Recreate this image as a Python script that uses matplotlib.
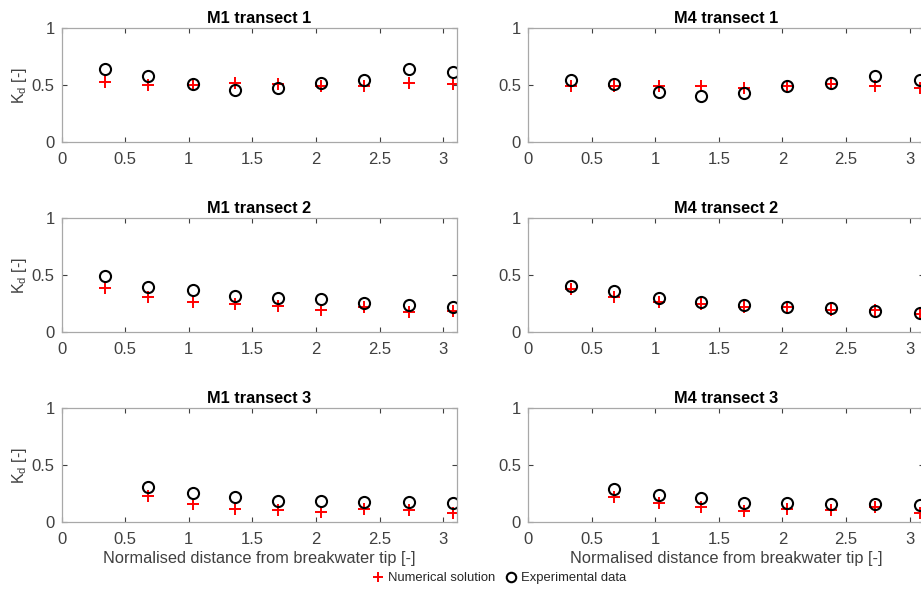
"""Diffraction coefficient along transects: numerical vs experimental."""

import matplotlib
matplotlib.use("Agg")
import matplotlib.pyplot as plt
import numpy as np

plt.rcParams["font.family"] = ["Liberation Sans", "DejaVu Sans"]
plt.rcParams["mathtext.fontset"] = "custom"
plt.rcParams["mathtext.rm"] = "Liberation Sans"
plt.rcParams["mathtext.it"] = "Liberation Sans"

X = [0.34, 0.68, 1.03, 1.36, 1.70, 2.04, 2.38, 2.73, 3.08]
X3 = X[1:]

m1_t1_num = [0.53, 0.50, 0.50, 0.52, 0.51, 0.49, 0.49, 0.52, 0.51]
m1_t1_exp = [0.64, 0.58, 0.51, 0.46, 0.48, 0.52, 0.55, 0.64, 0.62]
m4_t1_num = [0.49, 0.49, 0.49, 0.49, 0.48, 0.49, 0.51, 0.49, 0.48]
m4_t1_exp = [0.55, 0.51, 0.44, 0.41, 0.43, 0.49, 0.52, 0.58, 0.55]

m1_t2_num = [0.39, 0.31, 0.27, 0.25, 0.23, 0.20, 0.22, 0.18, 0.19]
m1_t2_exp = [0.49, 0.40, 0.37, 0.32, 0.30, 0.29, 0.26, 0.24, 0.22]
m4_t2_num = [0.38, 0.31, 0.27, 0.25, 0.22, 0.22, 0.20, 0.20, 0.16]
m4_t2_exp = [0.41, 0.36, 0.30, 0.27, 0.24, 0.22, 0.21, 0.19, 0.17]

m1_t3_num = [0.23, 0.16, 0.12, 0.11, 0.09, 0.12, 0.11, 0.08]
m1_t3_exp = [0.31, 0.26, 0.22, 0.19, 0.19, 0.18, 0.18, 0.17]
m4_t3_num = [0.22, 0.17, 0.13, 0.10, 0.12, 0.11, 0.13, 0.08]
m4_t3_exp = [0.29, 0.24, 0.21, 0.17, 0.17, 0.16, 0.16, 0.15]

panels = [
    ("M1 transect 1", X, m1_t1_num, m1_t1_exp),
    ("M4 transect 1", X, m4_t1_num, m4_t1_exp),
    ("M1 transect 2", X, m1_t2_num, m1_t2_exp),
    ("M4 transect 2", X, m4_t2_num, m4_t2_exp),
    ("M1 transect 3", X3, m1_t3_num, m1_t3_exp),
    ("M4 transect 3", X3, m4_t3_num, m4_t3_exp),
]

W, H = 921, 590
fig = plt.figure(figsize=(W / 100, H / 100), dpi=100)

lefts = [61.7, 528.0]
tops = [28.3, 218.3, 408.3]
ax_w, ax_h = 395.5, 114.0
frame = "#a8a8a8"
tick_col = "#404040"

for i, (title, xs, num, exp) in enumerate(panels):
    row, col = divmod(i, 2)
    left = lefts[col] / W
    bottom = 1 - (tops[row] + ax_h) / H
    ax = fig.add_axes([left, bottom, ax_w / W, ax_h / H])
    ax.plot(xs, num, linestyle="none", marker="+", color="red",
            markersize=8, markeredgewidth=1.4, label="Numerical solution")
    ax.plot(xs, exp, linestyle="none", marker="o", markerfacecolor="none",
            markeredgecolor="black", markersize=8, markeredgewidth=1.5,
            label="Experimental data")
    ax.set_xlim(0, 3.11)
    ax.set_ylim(0, 1)
    ax.set_xticks([0, 0.5, 1, 1.5, 2, 2.5, 3])
    ax.set_xticklabels(["0", "0.5", "1", "1.5", "2", "2.5", "3"])
    ax.set_yticks([0, 0.5, 1])
    ax.set_yticklabels(["0", "0.5", "1"])
    ax.tick_params(direction="in", top=True, right=True, length=3.5,
                   width=0.8, color=tick_col, labelcolor=tick_col,
                   labelsize=12)
    ax.tick_params(axis="x", pad=7)
    ax.tick_params(axis="y", pad=5)
    for s in ax.spines.values():
        s.set_color(frame)
        s.set_linewidth(0.9)
    ax.set_title(title, fontsize=11.7, fontweight="bold", pad=4)
    if col == 0:
        ax.set_ylabel(r"K$_\mathrm{d}$ [-]", fontsize=11.5, color=tick_col, labelpad=2)
    if row == 2:
        ax.set_xlabel("Normalised distance from breakwater tip [-]",
                      fontsize=11.8, color=tick_col, labelpad=3)
    if i == 0:
        handles, labels = ax.get_legend_handles_labels()

leg = fig.legend(handles, labels, loc="center", bbox_to_anchor=(0.541, 1 - 578 / H),
                 ncol=2, frameon=False, fontsize=9.4, handletextpad=0.2,
                 columnspacing=0.6, handlelength=1.2, markerscale=0.85)
for t in leg.get_texts():
    t.set_color("#262626")

fig.savefig("out.png", dpi=100, facecolor="white")
